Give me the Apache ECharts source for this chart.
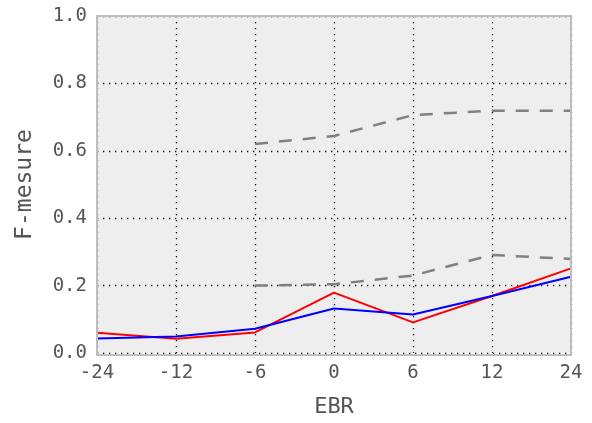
<!DOCTYPE html>
<html><head><meta charset="utf-8">
<script src="https://cdn.jsdelivr.net/npm/echarts@6/dist/echarts.min.js"></script>
<style>html,body{margin:0;padding:0;background:#fff}#c{width:592px;height:423px}</style>
</head><body><div id="c"></div>
<script>
const categories = ['-24','-12','-6','0','6','12','24'];
const redValues = [0.060, 0.042, 0.061, 0.179, 0.091, 0.169, 0.251];
const blueValues = [0.043, 0.049, 0.072, 0.132, 0.114, 0.169, 0.226];
const grayUpper = [null, null, 0.620, 0.644, 0.706, 0.719, 0.719];
const grayLower = [null, null, 0.200, 0.204, 0.230, 0.291, 0.279];
const yTicks = [0, 0.2, 0.4, 0.6, 0.8, 1.0];

const FONT = 'DejaVu Sans Mono';
const G = {left:97, right:21, top:16, bottom:68};
const W = 592, H = 423;
const chart = echarts.init(document.getElementById('c'), null, {renderer:'canvas'});
const dotted = {color:'#000', width:1.3, type:[1.3,4.7]};
chart.setOption({
  animation:false,
  grid:{left:G.left, right:G.right, top:G.top, bottom:G.bottom, show:true, backgroundColor:'#eeeeee', borderColor:'#bdbdbd', borderWidth:0},
  graphic:[{type:'rect', z:100, silent:true,
    shape:{x:G.left, y:G.top, width:W-G.left-G.right, height:H-G.top-G.bottom},
    style:{fill:null, stroke:'#bdbdbd', lineWidth:2}}],
  xAxis:{type:'category', data:categories, boundaryGap:false,
    name:'EBR', nameLocation:'middle', nameGap:43,
    nameTextStyle:{fontFamily:FONT, fontSize:22, color:'#555'},
    axisLine:{show:false}, axisTick:{show:false},
    axisLabel:{fontFamily:FONT, fontSize:19, color:'#555', margin:11},
    splitLine:{show:true, lineStyle:dotted}},
  yAxis:{type:'value', min:0, max:1, interval:0.2,
    name:'F-mesure', nameLocation:'middle', nameGap:60,
    nameTextStyle:{fontFamily:FONT, fontSize:23, color:'#555'},
    axisLine:{show:false}, axisTick:{show:false},
    axisLabel:{fontFamily:FONT, fontSize:19, color:'#555', margin:10,
      formatter:v=>yTicks.some(t=>Math.abs(t-v)<1e-9)?v.toFixed(1):''},
    splitLine:{show:true, lineStyle:dotted}},
  series:[
    {type:'line', data:grayUpper, symbol:'none', connectNulls:false, lineStyle:{color:'#808080', width:2.5, type:[13,11]}},
    {type:'line', data:grayLower, symbol:'none', connectNulls:false, lineStyle:{color:'#808080', width:2.5, type:[13,11]}},
    {type:'line', data:redValues, symbol:'none', lineStyle:{color:'#ff0000', width:2}},
    {type:'line', data:blueValues, symbol:'none', lineStyle:{color:'#0000ff', width:2}}
  ]
});
</script></body></html>
